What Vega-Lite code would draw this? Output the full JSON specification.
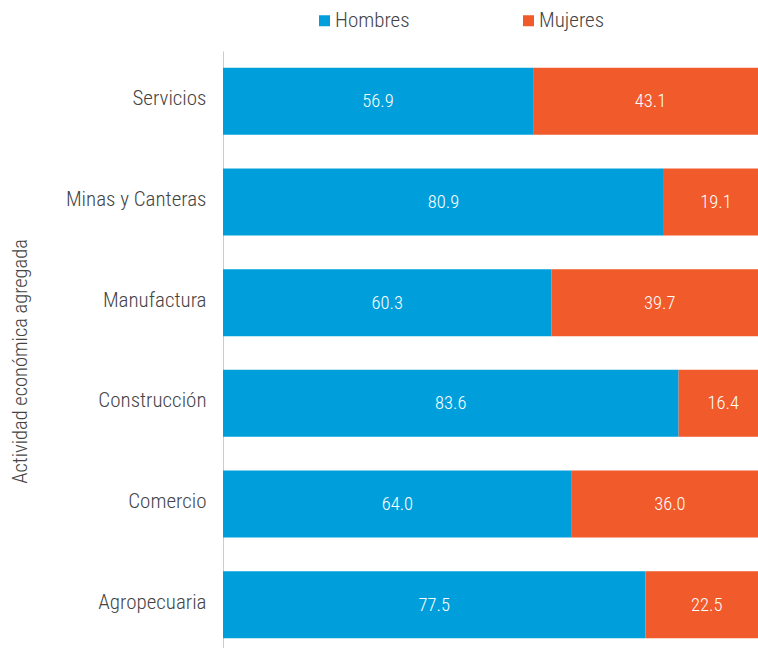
{
  "$schema": "https://vega.github.io/schema/vega-lite/v6.json",
  "autosize": "none",
  "width": 545,
  "height": 604,
  "padding": {"left": 223, "top": 51, "right": 0, "bottom": 0},
  "background": "white",
  "config": {
    "view": {"stroke": null},
    "font": "Roboto Condensed, Roboto",
    "text": {"font": "Roboto Condensed, Roboto"}
  },
  "data": {
    "values": [
      {"actividad": "Servicios", "sexo": "Hombres", "valor": 56.9},
      {"actividad": "Servicios", "sexo": "Mujeres", "valor": 43.1},
      {"actividad": "Minas y Canteras", "sexo": "Hombres", "valor": 80.9},
      {"actividad": "Minas y Canteras", "sexo": "Mujeres", "valor": 19.1},
      {"actividad": "Manufactura", "sexo": "Hombres", "valor": 60.3},
      {"actividad": "Manufactura", "sexo": "Mujeres", "valor": 39.7},
      {"actividad": "Construcción", "sexo": "Hombres", "valor": 83.6},
      {"actividad": "Construcción", "sexo": "Mujeres", "valor": 16.4},
      {"actividad": "Comercio", "sexo": "Hombres", "valor": 64.0},
      {"actividad": "Comercio", "sexo": "Mujeres", "valor": 36.0},
      {"actividad": "Agropecuaria", "sexo": "Hombres", "valor": 77.5},
      {"actividad": "Agropecuaria", "sexo": "Mujeres", "valor": 22.5}
    ]
  },
  "transform": [
    {"calculate": "datum.sexo === 'Hombres' ? 0 : 1", "as": "orden"},
    {"stack": "valor", "groupby": ["actividad"], "sort": [{"field": "orden", "order": "ascending"}], "as": ["x0", "x1"]},
    {"calculate": "(datum.x0 + datum.x1) / 2", "as": "xm"}
  ],
  "encoding": {
    "y": {
      "field": "actividad",
      "type": "nominal",
      "sort": ["Servicios", "Minas y Canteras", "Manufactura", "Construcción", "Comercio", "Agropecuaria"],
      "scale": {"paddingInner": 0.334, "paddingOuter": 0.167},
      "axis": {
        "title": "Actividad económica agregada",
        "titleFont": "Roboto Condensed, Roboto",
        "titleFontWeight": 300,
        "titleFontSize": 20.5,
        "titleColor": "#444444",
        "titleX": -203,
        "titleY": 310,
        "titleAngle": 270,
        "titleAlign": "center",
        "titleBaseline": "middle",
        "labelFont": "Roboto Condensed, Roboto",
        "labelFontWeight": 300,
        "labelFontSize": 21,
        "labelColor": "#444444",
        "labelPadding": 17,
        "labelOffset": -2,
        "labelLimit": 300,
        "ticks": false,
        "domainColor": "#cccccc",
        "domainWidth": 1,
        "grid": false
      }
    }
  },
  "layer": [
    {
      "mark": {"type": "bar", "stroke": null},
      "encoding": {
        "x": {"field": "x0", "type": "quantitative", "scale": {"domain": [0, 100], "nice": false}, "axis": null},
        "x2": {"field": "x1"},
        "color": {
          "field": "sexo",
          "type": "nominal",
          "scale": {"domain": ["Hombres", "Mujeres"], "range": ["#009fdb", "#f15a2b"]},
          "legend": {
            "title": null,
            "orient": "none",
            "legendX": 91,
            "legendY": -41,
            "direction": "horizontal",
            "symbolType": "square",
            "symbolSize": 121,
            "symbolStrokeWidth": 0,
            "labelFont": "Roboto Condensed, Roboto",
            "labelFontWeight": 300,
            "labelFontSize": 21,
            "labelColor": "#444444",
            "labelOffset": 0,
            "columnPadding": 108,
            "padding": 0
          }
        }
      }
    },
    {
      "mark": {"type": "text", "color": "white", "fontSize": 18.5, "fontWeight": 300, "font": "Roboto Condensed, Roboto"},
      "encoding": {
        "x": {"field": "xm", "type": "quantitative"},
        "text": {"field": "valor", "type": "quantitative", "format": ".1f"}
      }
    }
  ]
}
